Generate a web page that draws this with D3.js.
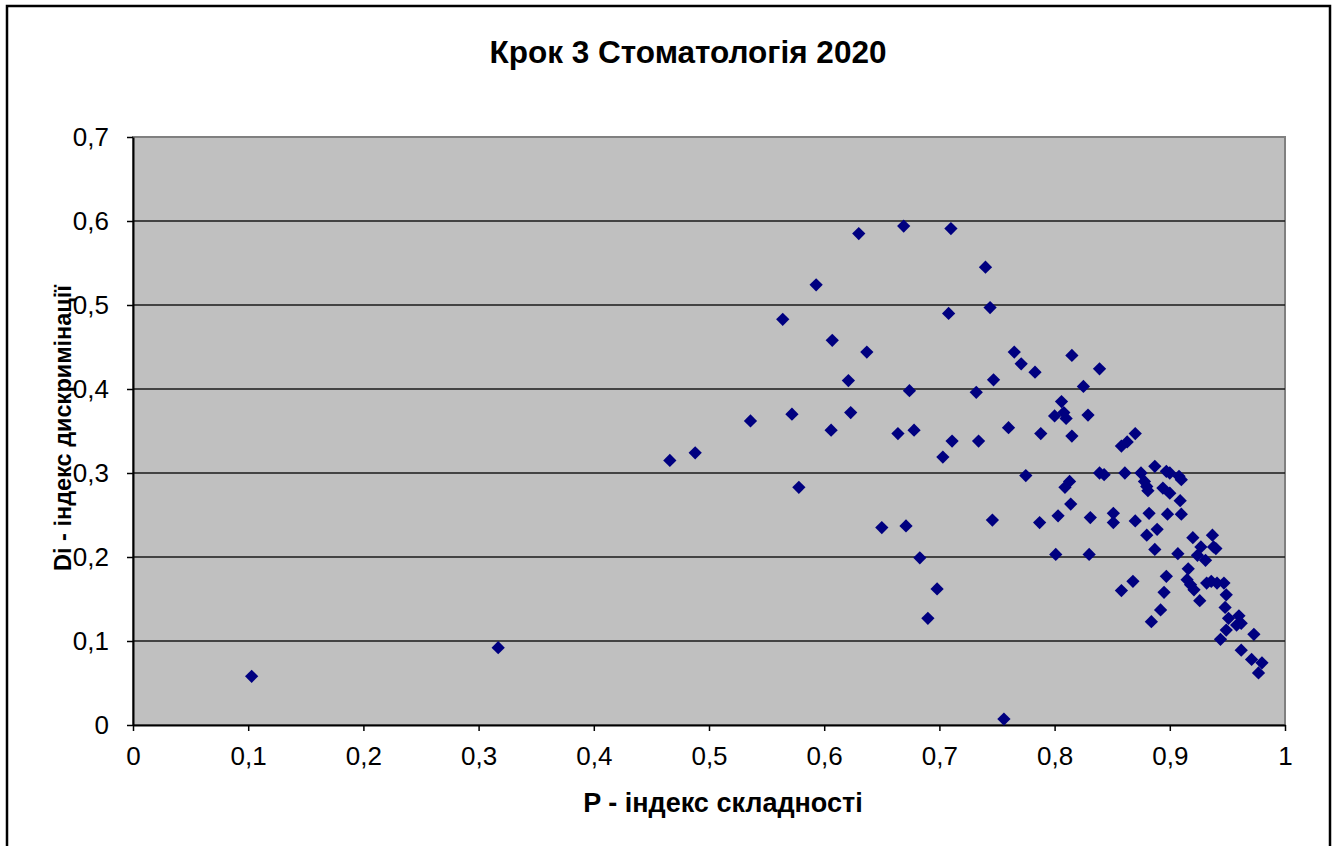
<!DOCTYPE html>
<html>
<head>
<meta charset="utf-8">
<script src="https://cdn.jsdelivr.net/npm/d3@7"></script>
<style>
html,body{margin:0;padding:0;background:#fff;}
svg{display:block;}
text{font-family:"Liberation Sans",Arial,sans-serif;fill:#000;}
</style>
</head>
<body>
<svg id="chart" width="1335" height="846"></svg>
<script>
const title = "Крок 3 Стоматологія 2020";
const xTitle = "P - індекс складності";
const yTitle = "Di - індекс дискримінації";

const xTicks = [0,0.1,0.2,0.3,0.4,0.5,0.6,0.7,0.8,0.9,1];
const xTickLabels = ["0","0,1","0,2","0,3","0,4","0,5","0,6","0,7","0,8","0,9","1"];
const yTicks = [0,0.1,0.2,0.3,0.4,0.5,0.6,0.7];
const yTickLabels = ["0","0,1","0,2","0,3","0,4","0,5","0,6","0,7"];

// P - difficulty index
const pValues = [
0.103,0.317,0.466,0.488,0.536,0.564,0.572,0.578,0.593,0.606,
0.607,0.621,0.623,0.630,0.637,0.650,0.664,0.669,0.671,0.674,
0.678,0.683,0.690,0.698,0.703,0.708,0.710,0.711,0.732,0.734,
0.740,0.744,0.746,0.747,0.756,0.760,0.765,0.771,0.775,0.783,
0.787,0.788,0.800,0.801,0.803,0.806,0.809,0.810,0.813,0.814,
0.815,0.815,0.825,0.829,0.830,0.831,0.839,0.839,0.843,0.851,
0.851,0.858,0.858,0.861,0.863,0.868,0.870,0.870,0.875,0.878,
0.880,0.881,0.880,0.882,0.884,0.887,0.887,0.889,0.892,0.895,
0.894,0.897,0.897,0.898,0.900,0.900,0.908,0.907,0.909,0.910,
0.910,0.915,0.916,0.918,0.920,0.921,0.924,0.926,0.927,0.931,
0.932,0.936,0.937,0.938,0.940,0.941,0.944,0.947,0.948,0.949,
0.949,0.951,0.958,0.960,0.962,0.962,0.971,0.973,0.977,0.980,
0.808
];
// Di - discrimination index
const diValues = [
0.058,0.092,0.315,0.324,0.362,0.483,0.370,0.283,0.524,0.351,
0.458,0.410,0.372,0.585,0.444,0.235,0.347,0.594,0.237,0.398,
0.351,0.199,0.127,0.162,0.319,0.490,0.591,0.338,0.396,0.338,
0.545,0.497,0.244,0.411,0.007,0.354,0.444,0.430,0.297,0.420,
0.241,0.347,0.368,0.203,0.249,0.385,0.283,0.365,0.290,0.263,
0.440,0.344,0.403,0.369,0.203,0.247,0.424,0.300,0.298,0.252,
0.241,0.332,0.160,0.300,0.337,0.171,0.243,0.347,0.300,0.290,
0.284,0.279,0.226,0.252,0.123,0.308,0.209,0.233,0.137,0.158,
0.282,0.302,0.177,0.251,0.300,0.276,0.296,0.204,0.267,0.292,
0.251,0.173,0.186,0.167,0.223,0.161,0.202,0.148,0.212,0.196,
0.169,0.171,0.226,0.212,0.210,0.169,0.102,0.169,0.140,0.155,
0.113,0.127,0.119,0.130,0.089,0.121,0.078,0.108,0.062,0.074,
0.372
];

const svg = d3.select("#chart");
const plot = {left:133, right:1285, top:137, bottom:725};

// outer frame
svg.append("rect")
  .attr("x",7).attr("y",6).attr("width",1323).attr("height",850)
  .attr("fill","#fff").attr("stroke","#000").attr("stroke-width",2.5);

const x = d3.scaleLinear().domain([0,1]).range([plot.left, plot.right]);
const y = d3.scaleLinear().domain([0,0.7]).range([plot.bottom, plot.top]);

// plot background
svg.append("rect")
  .attr("x",plot.left).attr("y",plot.top)
  .attr("width",plot.right-plot.left).attr("height",plot.bottom-plot.top)
  .attr("fill","#c0c0c0").attr("stroke","#808080").attr("stroke-width",2);

// gridlines
svg.append("g").selectAll("line")
  .data(yTicks.filter(d=>d>0 && d<0.7))
  .join("line")
  .attr("x1",plot.left).attr("x2",plot.right)
  .attr("y1",d=>y(d)).attr("y2",d=>y(d))
  .attr("stroke","#1a1a1a").attr("stroke-width",1.4);

// axes
const xAxis = d3.axisBottom(x).tickValues(xTicks)
  .tickFormat((d,i)=>xTickLabels[i]).tickSize(6).tickSizeOuter(0).tickPadding(16);
const gx = svg.append("g").attr("transform",`translate(0,${plot.bottom})`).call(xAxis);
gx.select(".domain").attr("stroke","#000").attr("stroke-width",2);
gx.selectAll(".tick line").attr("stroke","#000").attr("stroke-width",1.5);
gx.selectAll(".tick text").attr("font-size",26).attr("font-family","Liberation Sans, Arial, sans-serif").attr("fill","#000");

const yAxis = d3.axisLeft(y).tickValues(yTicks)
  .tickFormat((d,i)=>yTickLabels[i]).tickSize(6).tickSizeOuter(0).tickPadding(18);
const gy = svg.append("g").attr("transform",`translate(${plot.left},0)`).call(yAxis);
gy.select(".domain").attr("stroke","#000").attr("stroke-width",2);
gy.selectAll(".tick line").attr("stroke","#000").attr("stroke-width",1.5);
gy.selectAll(".tick text").attr("font-size",26).attr("font-family","Liberation Sans, Arial, sans-serif").attr("fill","#000");

// points
const pts = pValues.map((p,i)=>({p, di: diValues[i]}));
svg.append("g").selectAll("path")
  .data(pts)
  .join("path")
  .attr("d", d3.symbol(d3.symbolSquare, 88)())
  .attr("transform", d=>`translate(${x(d.p)},${y(d.di)}) rotate(45)`)
  .attr("fill","#000080");

// titles
svg.append("text").attr("x",688).attr("y",63)
  .attr("text-anchor","middle").attr("font-size",31.5).attr("font-weight","bold")
  .text(title);
svg.append("text").attr("x",723).attr("y",812)
  .attr("text-anchor","middle").attr("font-size",27).attr("font-weight","bold")
  .text(xTitle);
svg.append("text")
  .attr("transform","translate(71,428) rotate(-90)")
  .attr("text-anchor","middle").attr("font-size",23.5).attr("font-weight","bold")
  .text(yTitle);
</script>
</body>
</html>
